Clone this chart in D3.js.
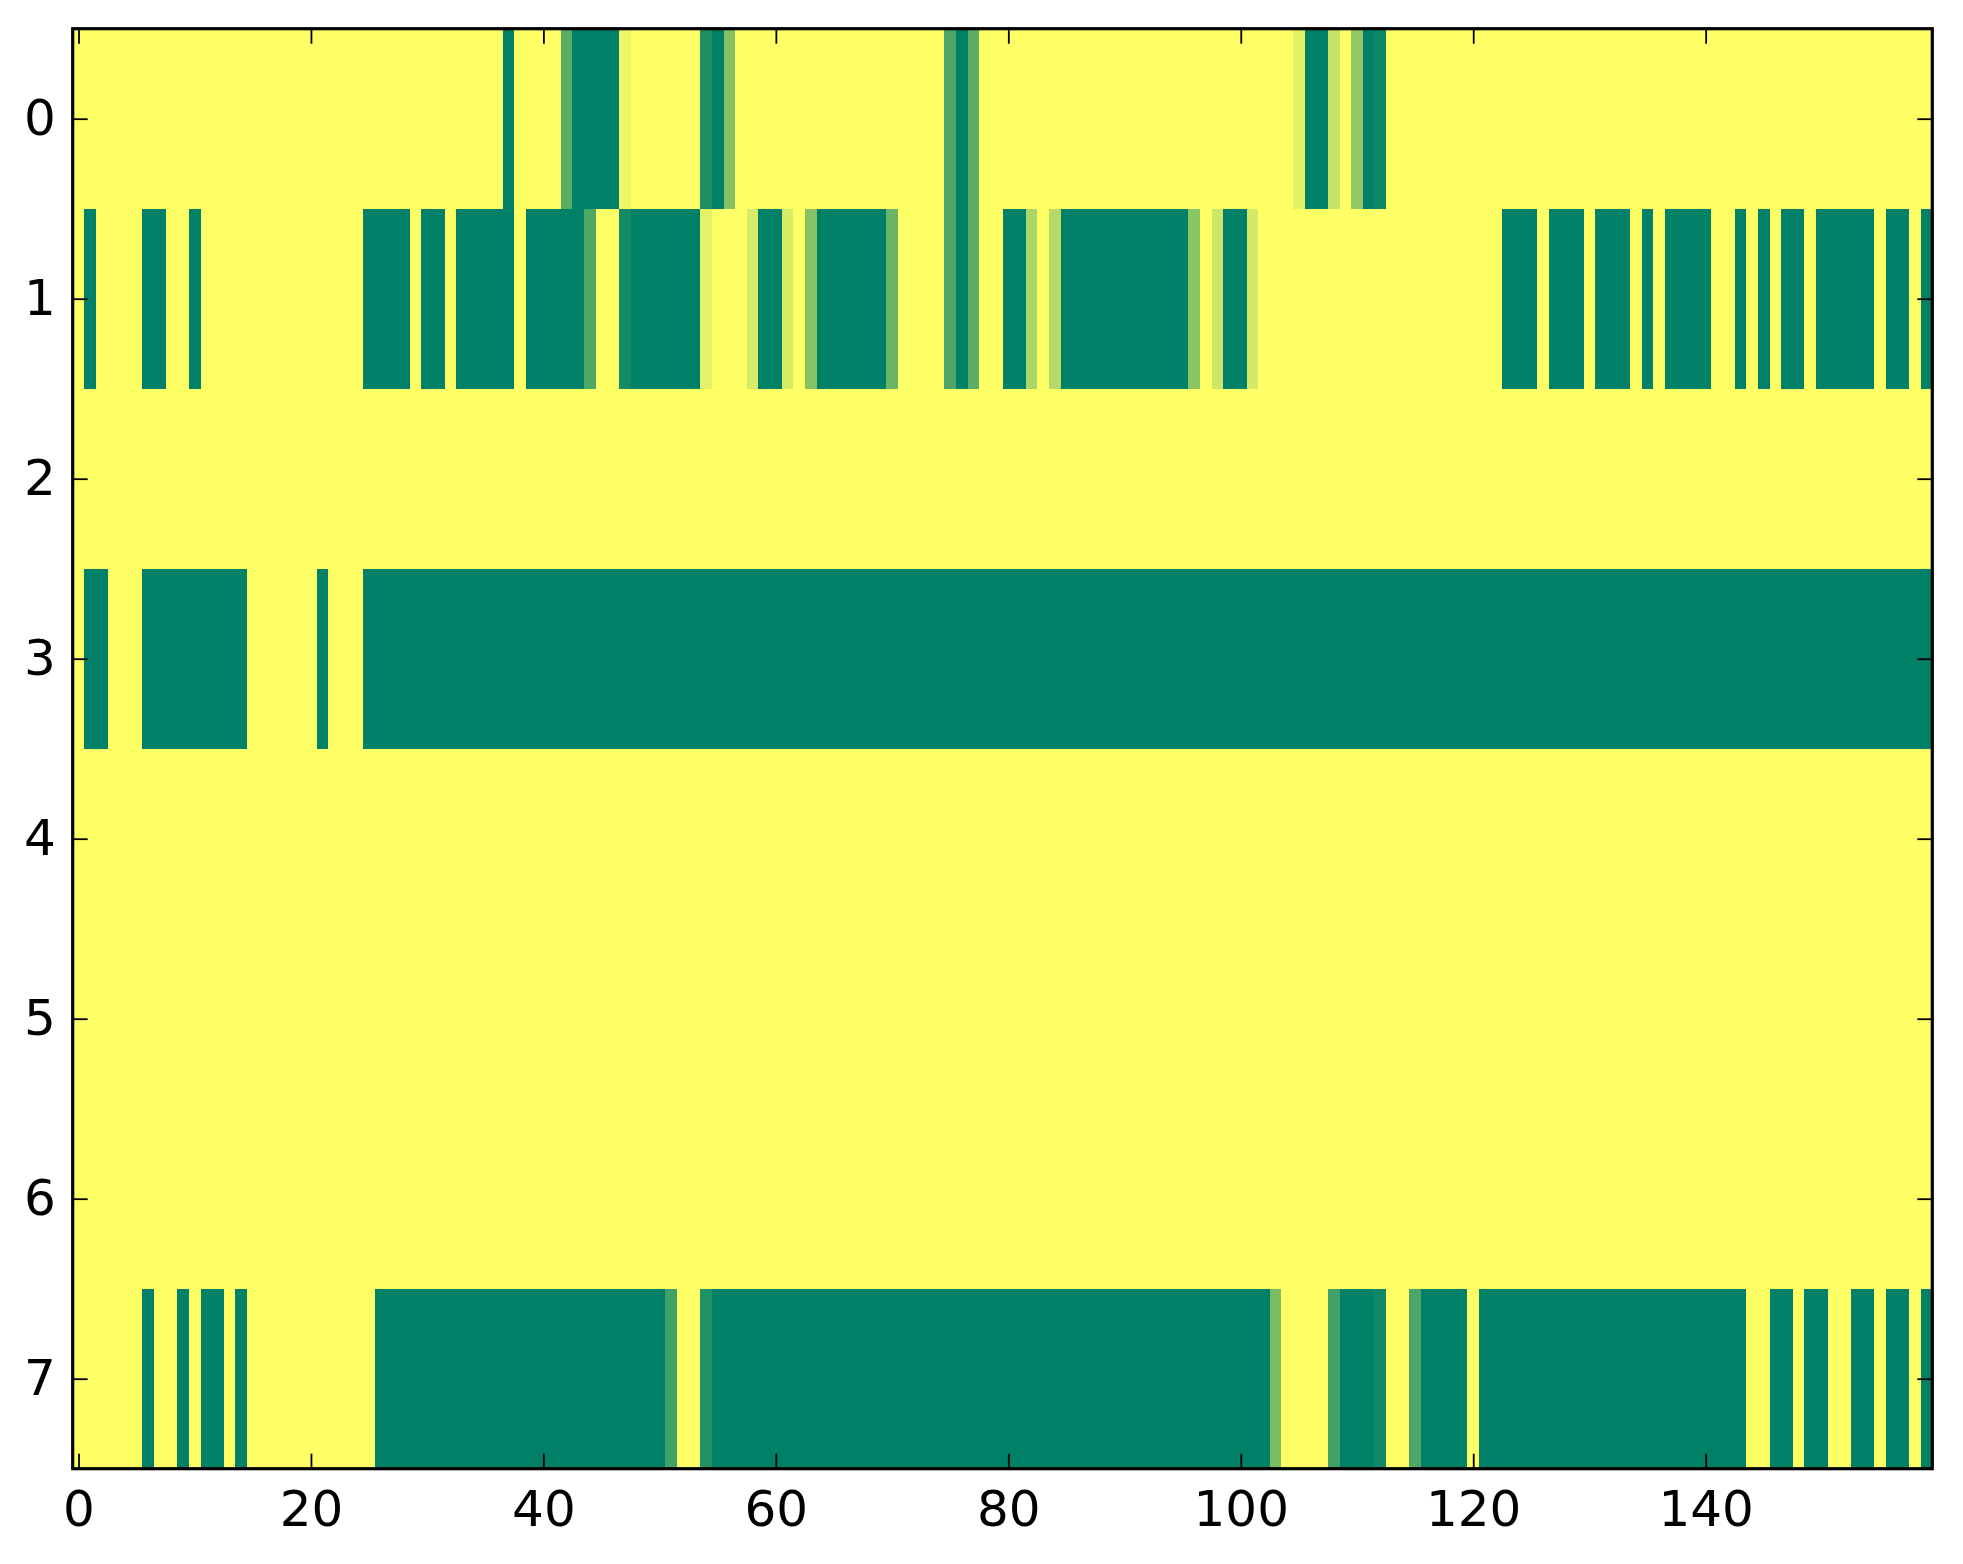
<!DOCTYPE html>
<html>
<head>
<meta charset="utf-8">
<script src="https://cdn.jsdelivr.net/npm/d3@7"></script>
<style>
  html, body { margin: 0; padding: 0; background: #ffffff; }
  svg { display: block; }
  text { font-family: "DejaVu Sans", sans-serif; }
</style>
</head>
<body>
<svg id="chart" width="1963" height="1564"></svg>
<script>
// ---- data (0 = yellow, 1 = green) ----
const rowIndex = [0, 1, 2, 3, 4, 5, 6, 7];
const xTickValues = [0, 20, 40, 60, 80, 100, 120, 140];
const yTickValues = [0, 1, 2, 3, 4, 5, 6, 7];

const row0 = [
  0,0,0,0,0,0,0,0,0,0,
  0,0,0,0,0,0,0,0,0,0,
  0,0,0,0,0,0,0,0,0,0,
  0,0,0,0,0,0,0,1,0,0,
  0,0,0.65,1,1,1,1,0.07,0,0,
  0,0,0,0,0.88,1,0.48,0,0,0,
  0,0,0,0,0,0,0,0,0,0,
  0,0,0,0,0,0.7,1,0.64,0,0,
  0,0,0,0,0,0,0,0,0,0,
  0,0,0,0,0,0,0,0,0,0,
  0,0,0,0,0,0.11,1,1,0.22,0,
  0.42,1,0.94,0,0,0,0,0,0,0,
  0,0,0,0,0,0,0,0,0,0,
  0,0,0,0,0,0,0,0,0,0,
  0,0,0,0,0,0,0,0,0,0,
  0,0,0,0,0,0,0,0,0,0
];
const row1 = [
  0,1,0,0,0,0,1,1,0,0,
  1,0,0,0,0,0,0,0,0,0,
  0,0,0,0,0,1,1,1,1,0,
  1,1,0,1,1,1,1,1,0,1,
  1,1,1,1,0.69,0,0,0.92,1,1,
  1,1,1,1,0.1,0,0,0,0.16,1,
  1,0.16,0,0.47,1,1,1,1,1,1,
  0.59,0,0,0,0,0.7,1,0.64,0,0,
  1,1,0.33,0,0.29,1,1,1,1,1,
  1,1,1,1,1,1,0.46,0,0.2,1,
  1,0.17,0,0,0,0,0,0,0,0,
  0,0,0,0,0,0,0,0,0,0,
  0,0,0,1,1,1,0,1,1,1,
  0,1,1,1,0,1,0,1,1,1,
  1,0,0,1,0,1,0,1,1,0,
  1,1,1,1,1,0,1,1,0,1
];
const row2 = [
  0,0,0,0,0,0,0,0,0,0, 0,0,0,0,0,0,0,0,0,0,
  0,0,0,0,0,0,0,0,0,0, 0,0,0,0,0,0,0,0,0,0,
  0,0,0,0,0,0,0,0,0,0, 0,0,0,0,0,0,0,0,0,0,
  0,0,0,0,0,0,0,0,0,0, 0,0,0,0,0,0,0,0,0,0,
  0,0,0,0,0,0,0,0,0,0, 0,0,0,0,0,0,0,0,0,0,
  0,0,0,0,0,0,0,0,0,0, 0,0,0,0,0,0,0,0,0,0,
  0,0,0,0,0,0,0,0,0,0, 0,0,0,0,0,0,0,0,0,0,
  0,0,0,0,0,0,0,0,0,0, 0,0,0,0,0,0,0,0,0,0
];
const row3 = [
  0,1,1,0,0,0,1,1,1,1,
  1,1,1,1,1,0,0,0,0,0,
  0,1,0,0,0,1,1,1,1,1,
  1,1,1,1,1,1,1,1,1,1,
  1,1,1,1,1,1,1,1,1,1,
  1,1,1,1,1,1,1,1,1,1,
  1,1,1,1,1,1,1,1,1,1,
  1,1,1,1,1,1,1,1,1,1,
  1,1,1,1,1,1,1,1,1,1,
  1,1,1,1,1,1,1,1,1,1,
  1,1,1,1,1,1,1,1,1,1,
  1,1,1,1,1,1,1,1,1,1,
  1,1,1,1,1,1,1,1,1,1,
  1,1,1,1,1,1,1,1,1,1,
  1,1,1,1,1,1,1,1,1,1,
  1,1,1,1,1,1,1,1,1,1
];
const row4 = [
  0,0,0,0,0,0,0,0,0,0, 0,0,0,0,0,0,0,0,0,0,
  0,0,0,0,0,0,0,0,0,0, 0,0,0,0,0,0,0,0,0,0,
  0,0,0,0,0,0,0,0,0,0, 0,0,0,0,0,0,0,0,0,0,
  0,0,0,0,0,0,0,0,0,0, 0,0,0,0,0,0,0,0,0,0,
  0,0,0,0,0,0,0,0,0,0, 0,0,0,0,0,0,0,0,0,0,
  0,0,0,0,0,0,0,0,0,0, 0,0,0,0,0,0,0,0,0,0,
  0,0,0,0,0,0,0,0,0,0, 0,0,0,0,0,0,0,0,0,0,
  0,0,0,0,0,0,0,0,0,0, 0,0,0,0,0,0,0,0,0,0
];
const row5 = [
  0,0,0,0,0,0,0,0,0,0, 0,0,0,0,0,0,0,0,0,0,
  0,0,0,0,0,0,0,0,0,0, 0,0,0,0,0,0,0,0,0,0,
  0,0,0,0,0,0,0,0,0,0, 0,0,0,0,0,0,0,0,0,0,
  0,0,0,0,0,0,0,0,0,0, 0,0,0,0,0,0,0,0,0,0,
  0,0,0,0,0,0,0,0,0,0, 0,0,0,0,0,0,0,0,0,0,
  0,0,0,0,0,0,0,0,0,0, 0,0,0,0,0,0,0,0,0,0,
  0,0,0,0,0,0,0,0,0,0, 0,0,0,0,0,0,0,0,0,0,
  0,0,0,0,0,0,0,0,0,0, 0,0,0,0,0,0,0,0,0,0
];
const row6 = [
  0,0,0,0,0,0,0,0,0,0, 0,0,0,0,0,0,0,0,0,0,
  0,0,0,0,0,0,0,0,0,0, 0,0,0,0,0,0,0,0,0,0,
  0,0,0,0,0,0,0,0,0,0, 0,0,0,0,0,0,0,0,0,0,
  0,0,0,0,0,0,0,0,0,0, 0,0,0,0,0,0,0,0,0,0,
  0,0,0,0,0,0,0,0,0,0, 0,0,0,0,0,0,0,0,0,0,
  0,0,0,0,0,0,0,0,0,0, 0,0,0,0,0,0,0,0,0,0,
  0,0,0,0,0,0,0,0,0,0, 0,0,0,0,0,0,0,0,0,0,
  0,0,0,0,0,0,0,0,0,0, 0,0,0,0,0,0,0,0,0,0
];
const row7 = [
  0,0,0,0,0,0,1,0,0,1,
  0,1,1,0,1,0,0,0,0,0,
  0,0,0,0,0,0,1,1,1,1,
  1,1,1,1,1,1,1,1,1,1,
  1,1,1,1,1,1,1,1,1,1,
  1,0.75,0,0,0.87,1,1,1,1,1,
  1,1,1,1,1,1,1,1,1,1,
  1,1,1,1,1,1,1,1,1,1,
  1,1,1,1,1,1,1,1,1,1,
  1,1,1,1,1,1,1,1,1,1,
  1,1,1,0.52,0,0,0,0,0.75,1,
  1,1,0.93,0,0,0.7,1,1,1,1,
  0,1,1,1,1,1,1,1,1,1,
  1,1,1,1,1,1,1,1,1,1,
  1,1,1,1,0,0,1,1,0,1,
  1,0,0,1,1,0,1,1,0,1
];
const rows = [row0, row1, row2, row3, row4, row5, row6, row7];

// ---- layout ----
const plotLeft = 72.7, plotRight = 1932.3, plotTop = 28.7, plotBottom = 1468.7;
const nCols = row0.length;

const svg = d3.select("#chart");
const x = d3.scaleLinear().domain([-0.5, nCols - 0.5]).range([plotLeft, plotRight]);
const y = d3.scaleLinear().domain([-0.5, rowIndex.length - 0.5]).range([plotTop, plotBottom]);
// summer_r colormap: linear from yellow (0) to green (1)
const color = d3.scaleLinear().domain([0, 1])
  .range(["rgb(255,255,102)", "rgb(0,128,102)"])
  .interpolate(d3.interpolateRgb).clamp(true);

const cells = [];
rows.forEach((r, ri) => r.forEach((v, ci) => cells.push({ r: rowIndex[ri], c: ci, v })));

svg.append("g").attr("shape-rendering", "crispEdges")
  .selectAll("rect").data(cells).join("rect")
  .attr("x", d => x(d.c - 0.5))
  .attr("y", d => y(d.r - 0.5))
  .attr("width", d => x(d.c + 0.5) - x(d.c - 0.5) + 0.4)
  .attr("height", d => y(d.r + 0.5) - y(d.r - 0.5) + 0.4)
  .attr("fill", d => color(d.v));

// ---- axes (matplotlib classic: ticks inward on all four sides) ----
const tickLen = 15, fontSize = 50;
function styleAxis(g) {
  g.select(".domain").remove();
  g.selectAll(".tick line").attr("stroke", "#000").attr("stroke-width", 1.8);
  g.selectAll(".tick text").attr("fill", "#000")
    .style("font-family", "'DejaVu Sans', sans-serif").style("font-size", fontSize + "px");
}
svg.append("g").attr("transform", `translate(0,${plotBottom})`)
  .call(d3.axisBottom(x).tickValues(xTickValues).tickSize(-tickLen).tickPadding(22).tickFormat(d3.format("d")))
  .call(styleAxis);
svg.append("g").attr("transform", `translate(0,${plotTop})`)
  .call(d3.axisTop(x).tickValues(xTickValues).tickSize(-tickLen).tickFormat(""))
  .call(styleAxis);
svg.append("g").attr("transform", `translate(${plotLeft},0)`)
  .call(d3.axisLeft(y).tickValues(yTickValues).tickSize(-tickLen).tickPadding(17).tickFormat(d3.format("d")))
  .call(styleAxis);
svg.append("g").attr("transform", `translate(${plotRight},0)`)
  .call(d3.axisRight(y).tickValues(yTickValues).tickSize(-tickLen).tickFormat(""))
  .call(styleAxis);

// frame
svg.append("rect")
  .attr("x", plotLeft).attr("y", plotTop)
  .attr("width", plotRight - plotLeft).attr("height", plotBottom - plotTop)
  .attr("fill", "none").attr("stroke", "#000").attr("stroke-width", 3.2);
</script>
</body>
</html>
